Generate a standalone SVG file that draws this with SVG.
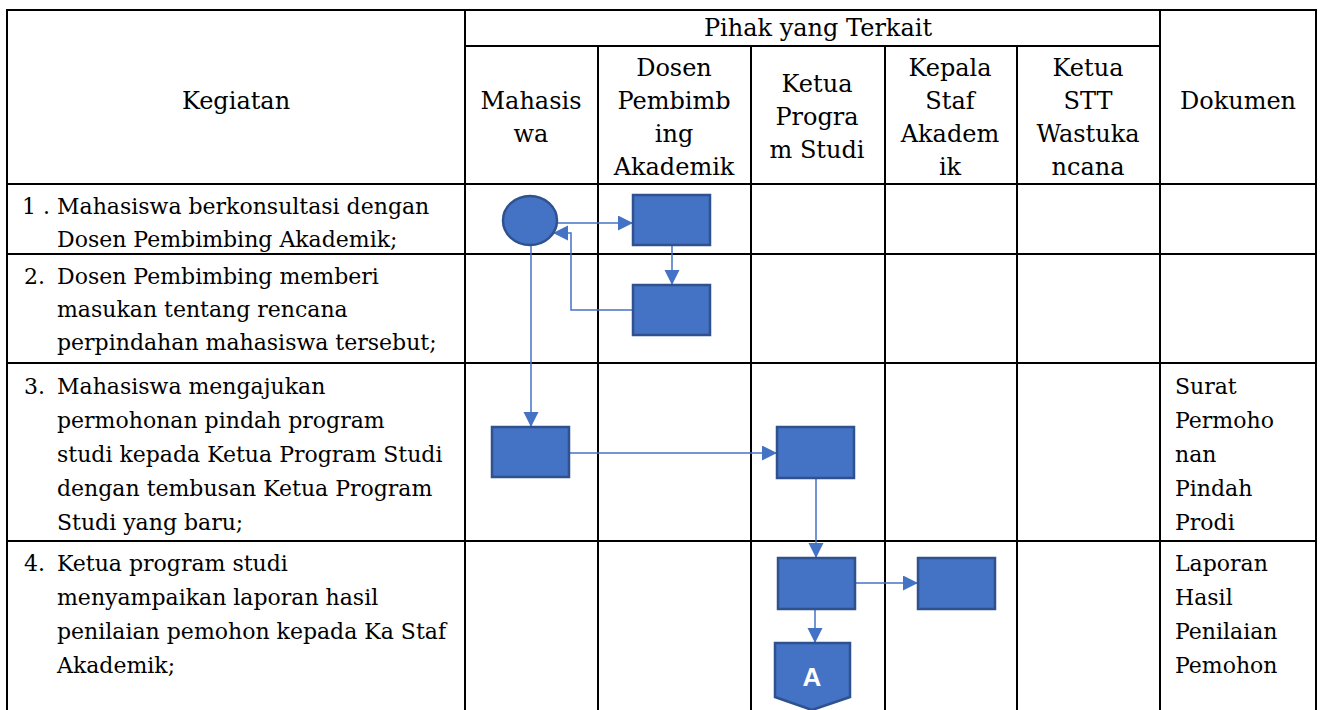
<svg xmlns="http://www.w3.org/2000/svg" width="1324" height="710" viewBox="0 0 1324 710">
<style>
.grid line{stroke:#000;stroke-width:2}
.h{font-family:"DejaVu Serif","Liberation Serif",serif;font-size:24px;fill:#000;text-anchor:middle}
.b{font-family:"DejaVu Serif","Liberation Serif",serif;font-size:22px;fill:#000}
.shape{fill:#4472C4;stroke:#2F528F;stroke-width:2.5}
.conn{fill:none;stroke:#4472C4;stroke-width:1.5}
.lbl{font-family:"Liberation Sans",Arial,sans-serif;font-size:26px;font-weight:bold;fill:#fff;text-anchor:middle}
</style>
<defs>
<marker id="arr" markerWidth="16" markerHeight="16" refX="15" refY="7.5" orient="auto" markerUnits="userSpaceOnUse">
<path d="M0,0 L15,7.5 L0,15 Z" fill="#4472C4"/>
</marker>
</defs>
<rect width="1324" height="710" fill="#fff"/>
<g class="grid" id="table">
<line x1="6" y1="10" x2="1317" y2="10"/>
<line x1="7" y1="10" x2="7" y2="710"/>
<line x1="465" y1="10" x2="465" y2="710"/>
<line x1="1160" y1="10" x2="1160" y2="710"/>
<line x1="1316" y1="10" x2="1316" y2="710"/>
<line x1="465" y1="46" x2="1160" y2="46"/>
<line x1="598" y1="46" x2="598" y2="710"/>
<line x1="751" y1="46" x2="751" y2="710"/>
<line x1="885" y1="46" x2="885" y2="710"/>
<line x1="1017" y1="46" x2="1017" y2="710"/>
<line x1="7" y1="184" x2="1316" y2="184"/>
<line x1="7" y1="254" x2="1316" y2="254"/>
<line x1="7" y1="363" x2="1316" y2="363"/>
<line x1="7" y1="541" x2="1316" y2="541"/>
</g>
<g id="headers">
<text class="h" x="818" y="36">Pihak yang Terkait</text>
<text class="h" x="236" y="109">Kegiatan</text>
<text class="h" x="531" y="109">Mahasis</text>
<text class="h" x="531" y="142">wa</text>
<text class="h" x="674" y="76">Dosen</text>
<text class="h" x="674" y="109">Pembimb</text>
<text class="h" x="674" y="142">ing</text>
<text class="h" x="674" y="175">Akademik</text>
<text class="h" x="817" y="92">Ketua</text>
<text class="h" x="817" y="125">Progra</text>
<text class="h" x="817" y="158">m Studi</text>
<text class="h" x="950" y="76">Kepala</text>
<text class="h" x="950" y="109">Staf</text>
<text class="h" x="950" y="142">Akadem</text>
<text class="h" x="950" y="175">ik</text>
<text class="h" x="1088" y="76">Ketua</text>
<text class="h" x="1088" y="109">STT</text>
<text class="h" x="1088" y="142">Wastuka</text>
<text class="h" x="1088" y="175">ncana</text>
<text class="h" x="1238" y="109">Dokumen</text>
</g>
<g id="activities">
<text class="b" x="22" y="214">1 .</text>
<text class="b" x="57" y="214">Mahasiswa berkonsultasi dengan</text>
<text class="b" x="57" y="247">Dosen Pembimbing Akademik;</text>
<text class="b" x="24" y="284">2.</text>
<text class="b" x="57" y="284">Dosen Pembimbing memberi</text>
<text class="b" x="57" y="317">masukan tentang rencana</text>
<text class="b" x="57" y="350">perpindahan mahasiswa tersebut;</text>
<text class="b" x="24" y="394">3.</text>
<text class="b" x="57" y="394">Mahasiswa mengajukan</text>
<text class="b" x="57" y="428">permohonan pindah program</text>
<text class="b" x="57" y="462">studi kepada Ketua Program Studi</text>
<text class="b" x="57" y="496">dengan tembusan Ketua Program</text>
<text class="b" x="57" y="530">Studi yang baru;</text>
<text class="b" x="24" y="571">4.</text>
<text class="b" x="57" y="571">Ketua program studi</text>
<text class="b" x="57" y="605">menyampaikan laporan hasil</text>
<text class="b" x="57" y="639">penilaian pemohon kepada Ka Staf</text>
<text class="b" x="57" y="673">Akademik;</text>
</g>
<g id="documents">
<text class="b" x="1175" y="394">Surat</text>
<text class="b" x="1175" y="428">Permoho</text>
<text class="b" x="1175" y="462">nan</text>
<text class="b" x="1175" y="496">Pindah</text>
<text class="b" x="1175" y="530">Prodi</text>
<text class="b" x="1175" y="571">Laporan</text>
<text class="b" x="1175" y="605">Hasil</text>
<text class="b" x="1175" y="639">Penilaian</text>
<text class="b" x="1175" y="673">Pemohon</text>
</g>
<g id="connectors">
<line class="conn" x1="557" y1="223" x2="633" y2="223" marker-end="url(#arr)"/>
<line class="conn" x1="672" y1="245" x2="672" y2="285" marker-end="url(#arr)"/>
<polyline class="conn" points="633,310 571,310 571,233 553,233" marker-end="url(#arr)"/>
<line class="conn" x1="531" y1="245" x2="531" y2="427" marker-end="url(#arr)"/>
<line class="conn" x1="569" y1="453" x2="777" y2="453" marker-end="url(#arr)"/>
<line class="conn" x1="816" y1="478" x2="816" y2="558" marker-end="url(#arr)"/>
<line class="conn" x1="855" y1="583" x2="918" y2="583" marker-end="url(#arr)"/>
<line class="conn" x1="815" y1="609" x2="815" y2="643" marker-end="url(#arr)"/>
</g>
<g id="n1"><ellipse class="shape" cx="530" cy="220.5" rx="27" ry="24.5"/></g>
<g id="n2"><rect class="shape" x="633" y="195" width="77" height="50"/></g>
<g id="n3"><rect class="shape" x="633" y="285" width="77" height="50"/></g>
<g id="n4"><rect class="shape" x="492" y="427" width="77" height="50"/></g>
<g id="n5"><rect class="shape" x="777" y="427" width="77" height="51"/></g>
<g id="n6"><rect class="shape" x="778" y="558" width="77" height="51"/></g>
<g id="n7"><rect class="shape" x="918" y="558" width="77" height="51"/></g>
<g id="n8"><path class="shape" d="M775,643 L850,643 L850,697 L812,710 L775,697 Z"/><text class="lbl" x="812" y="686">A</text></g>
</svg>
